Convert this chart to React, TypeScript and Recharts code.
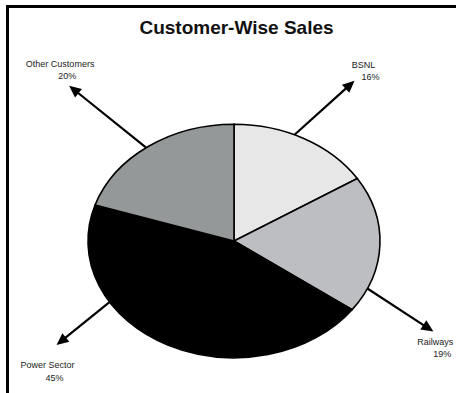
import { PieChart, Pie, Cell, Sector } from "recharts";

const customers = ["BSNL", "Railways", "Power Sector", "Other Customers"];
const sales = [16, 19, 45, 20];
const sliceColors = ["#e6e7e6", "#bdbec1", "#000000", "#959898"];

// callout layout: where the arrow leaves the rim (deg), arrow vector, label offset from tip
const callouts = [
  { angle: 65.5, dx: 60, dy: -54, lx: 9, ly: -13 },
  { angle: -24, dx: 66, dy: 43, lx: 2, ly: 13 },
  { angle: 211.5, dx: -53, dy: 43, lx: -9, ly: 23 },
  { angle: 127, dx: -77, dy: -62, lx: -9, ly: -19 },
];

const Y_SCALE = 0.8;
const FONT = "'Liberation Sans', Arial, sans-serif";

const data = customers.map((name, i) => ({ name, value: sales[i] }));

function EllipseSector(props: any) {
  const { cx, cy } = props;
  return (
    <g transform={`translate(0 ${cy}) scale(1 ${Y_SCALE}) translate(0 ${-cy})`}>
      <Sector {...props} cx={cx} cy={cy} />
    </g>
  );
}

function Callout(props: any) {
  const { cx, cy, outerRadius, index, percent, name } = props;
  const c = callouts[index];
  const rad = (c.angle * Math.PI) / 180;
  const sx = cx + outerRadius * Math.cos(rad);
  const sy = cy - outerRadius * Y_SCALE * Math.sin(rad);
  const tx = sx + c.dx;
  const ty = sy + c.dy;
  const len = Math.hypot(c.dx, c.dy);
  const ux = c.dx / len;
  const uy = c.dy / len;
  const head = 12;
  const half = 5.5;
  const bx = tx - ux * head;
  const by = ty - uy * head;
  const pts = `${tx},${ty} ${bx - uy * half},${by + ux * half} ${bx + uy * half},${by - ux * half}`;
  return (
    <g>
      <line x1={sx} y1={sy} x2={bx + ux * 2} y2={by + uy * 2} stroke="#000" strokeWidth={2.2} />
      <polygon points={pts} fill="#000" />
      <text x={tx + c.lx} y={ty + c.ly} textAnchor="middle" fontSize={9} fontFamily={FONT} fill="#222">
        <tspan x={tx + c.lx} dy={0}>{name}</tspan>
        <tspan x={tx + c.lx + 7} dy={12.5}>{`${Math.round(percent * 100)}%`}</tspan>
      </text>
    </g>
  );
}

export default function App() {
  return (
    <div style={{ position: "absolute", left: 0, top: 0, width: 456, height: 393, background: "#fff", overflow: "hidden" }}>
      <style>{".recharts-pie-sector path{vector-effect:non-scaling-stroke}"}</style>
      <div
        style={{
          position: "absolute", left: 6, top: 5, width: 470, height: 410,
          borderLeft: "3px solid #000", borderTop: "3px solid #000",
        }}
      />
      <div
        style={{
          position: "absolute", left: 0, top: 17, width: 473, textAlign: "center",
          fontFamily: FONT, fontWeight: "bold", fontSize: 19, color: "#111", lineHeight: "22px",
        }}
      >
        Customer-Wise Sales
      </div>
      <div style={{ position: "absolute", left: 0, top: 0 }}>
        <PieChart width={456} height={393} margin={{ top: 0, right: 0, bottom: 0, left: 0 }}>
          <Pie
            data={data}
            dataKey="value"
            nameKey="name"
            cx={234}
            cy={241}
            outerRadius={146}
            startAngle={90}
            endAngle={-270}
            stroke="#000"
            strokeWidth={1.6}
            shape={EllipseSector}
            label={Callout}
            labelLine={false}
            isAnimationActive={false}
          >
            {data.map((d, i) => (
              <Cell key={d.name} fill={sliceColors[i]} />
            ))}
          </Pie>
        </PieChart>
      </div>
    </div>
  );
}
